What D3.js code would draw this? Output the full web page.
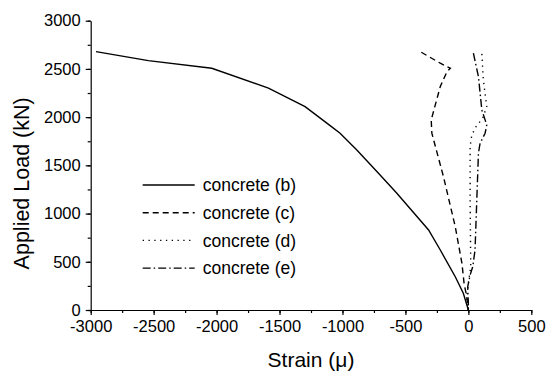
<!DOCTYPE html>
<html>
<head>
<meta charset="utf-8">
<script src="https://cdn.jsdelivr.net/npm/d3@7"></script>
<style>
  body { margin: 0; background: #fff; }
  text { font-family: Arial, "Liberation Sans", sans-serif; fill: #000; }
</style>
</head>
<body>
<svg id="chart" width="546" height="371"></svg>
<script>
// strain (micro) vs applied load (kN)
const seriesNames = ['concrete (b)', 'concrete (c)', 'concrete (d)', 'concrete (e)'];

const strainB = [-2958, -2542, -2038, -1588, -1297, -1098, -1019, -886, -714, -568, -316, -223, -104, -40, 0];
const loadB   = [2679, 2586, 2507, 2300, 2109, 1912, 1833, 1660, 1418, 1210, 830, 622, 345, 173, 0];

const strainC = [-374, -223, -143, -170, -223, -295, -290, -198, -104, -51, -34, -13, 0];
const loadC   = [2673, 2559, 2507, 2472, 2317, 1971, 1833, 1384, 864, 484, 277, 138, 0];

const strainD = [107, 119, 146, 114, 61, 27, 14, 14, 19, 0, -13, 0];
const loadD   = [2656, 2386, 2109, 1988, 1902, 1815, 1694, 1141, 449, 280, 138, 0];

const strainE = [40, 80, 107, 146, 133, 93, 80, 67, 53, 35, 14, -5, 0, 0];
const loadE   = [2663, 2420, 2075, 1919, 1833, 1729, 1625, 1141, 622, 449, 363, 242, 70, 0];

const xTicks = [-3000, -2500, -2000, -1500, -1000, -500, 0, 500];
const yTicks = [0, 500, 1000, 1500, 2000, 2500, 3000];

const dashes = [null, '6,4', '1.3,4.5', '8,3,1.5,3'];

const svg = d3.select('#chart');

const x = d3.scaleLinear().domain([-3000, 500]).range([90.7, 531.3]);
const y = d3.scaleLinear().domain([0, 3000]).range([310, 20.7]);

// minor ticks first
svg.append('g')
  .attr('transform', 'translate(0,310)')
  .call(d3.axisBottom(x).tickValues(d3.range(-3000, 501, 250)).tickSize(3).tickFormat(''))
  .call(g => g.select('.domain').remove());
svg.append('g')
  .attr('transform', 'translate(90.7,0)')
  .call(d3.axisLeft(y).tickValues(d3.range(0, 3001, 250)).tickSize(3).tickFormat(''))
  .call(g => g.select('.domain').remove());

const xAxis = svg.append('g')
  .attr('transform', 'translate(0,310)')
  .call(d3.axisBottom(x).tickValues(xTicks).tickSize(5).tickSizeOuter(0).tickPadding(5)
    .tickFormat(d => d.toString()));
xAxis.selectAll('text').attr('font-size', 16.5).attr('font-family', 'Arial, "Liberation Sans", sans-serif');

const yAxis = svg.append('g')
  .attr('transform', 'translate(90.7,0)')
  .call(d3.axisLeft(y).tickValues(yTicks).tickSize(5).tickSizeOuter(0).tickPadding(5)
    .tickFormat(d => d.toString()));
yAxis.selectAll('text').attr('font-size', 16.5).attr('font-family', 'Arial, "Liberation Sans", sans-serif');

svg.selectAll('.domain, .tick line').attr('stroke', '#000').attr('stroke-width', 1.2);

svg.append('text')
  .attr('x', (x(-3000) + x(500)) / 2 + 0)
  .attr('y', 367)
  .attr('text-anchor', 'middle')
  .attr('font-size', 21)
  .text('Strain (μ)');

svg.append('text')
  .attr('transform', 'translate(29,' + (y(1500) + 18) + ') rotate(-90)')
  .attr('text-anchor', 'middle')
  .attr('font-size', 21.5)
  .text('Applied Load (kN)');

const series = [
  [strainB, loadB],
  [strainC, loadC],
  [strainD, loadD],
  [strainE, loadE]
];

const line = d3.line().x(d => x(d[0])).y(d => y(d[1]));

series.forEach((s, i) => {
  const pts = s[0].map((v, j) => [v, s[1][j]]);
  svg.append('path')
    .datum(pts)
    .attr('d', line)
    .attr('fill', 'none')
    .attr('stroke', '#000')
    .attr('stroke-width', 1.4)
    .attr('stroke-dasharray', dashes[i]);
});

const legend = svg.append('g').attr('transform', 'translate(142.7,185)');
seriesNames.forEach((name, i) => {
  const row = legend.append('g').attr('transform', 'translate(0,' + (i * 27.7) + ')');
  row.append('line')
    .attr('x1', 0).attr('x2', 52)
    .attr('stroke', '#000')
    .attr('stroke-width', 1.4)
    .attr('stroke-dasharray', dashes[i]);
  row.append('text')
    .attr('x', 60)
    .attr('dy', '0.35em')
    .attr('font-size', 17.5)
    .text(name);
});
</script>
</body>
</html>
